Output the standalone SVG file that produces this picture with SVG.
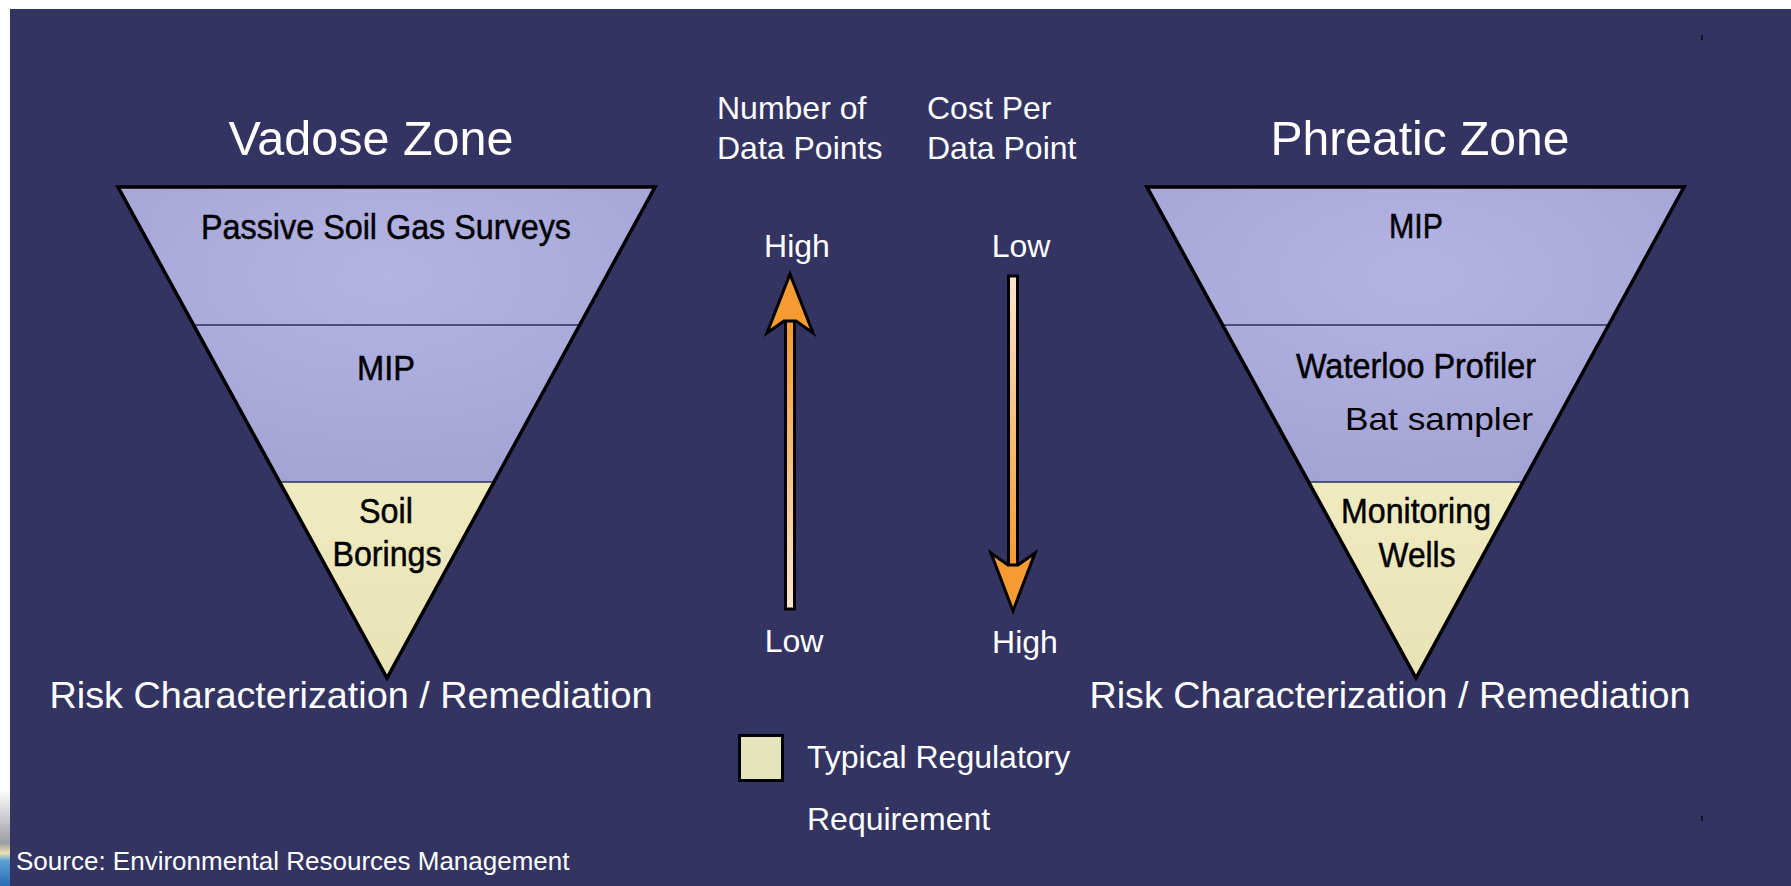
<svg xmlns="http://www.w3.org/2000/svg" width="1791" height="886" viewBox="0 0 1791 886">
  <style>
    .wt { fill: #ffffff; font-family: "Liberation Sans", Arial, sans-serif; }
    .bk { fill: #000000; font-family: "Liberation Sans", Arial, sans-serif; }
    .zone { font-size: 48px; text-anchor: middle; }
    .risk { font-size: 37px; text-anchor: middle; }
    .lbl { font-size: 35px; text-anchor: middle; stroke: #000000; stroke-width: 0.5; }
    .mid { font-size: 32px; }
    .outline { fill: none; stroke: #000000; stroke-width: 3.5; stroke-linejoin: miter; }
    .sep { stroke: #2e2e5e; stroke-width: 1.5; }
    .head { fill: #f59b32; stroke: #000000; stroke-width: 3; stroke-linejoin: miter; }
  </style>
  <defs>
    <radialGradient id="lav" cx="50%" cy="30%" r="70%">
      <stop offset="0" stop-color="#b4b4e4"/>
      <stop offset="1" stop-color="#a3a3d5"/>
    </radialGradient>
    <linearGradient id="yel" x1="0" y1="0" x2="0" y2="1">
      <stop offset="0" stop-color="#efebc0"/>
      <stop offset="1" stop-color="#e8e3b5"/>
    </linearGradient>
    <linearGradient id="upShaft" x1="0" y1="0" x2="0" y2="1">
      <stop offset="0" stop-color="#f39a30"/>
      <stop offset="1" stop-color="#fbe6cc"/>
    </linearGradient>
    <linearGradient id="downShaft" x1="0" y1="0" x2="0" y2="1">
      <stop offset="0" stop-color="#fbe6cc"/>
      <stop offset="1" stop-color="#f39a30"/>
    </linearGradient>
    <linearGradient id="logo" x1="0" y1="0" x2="0" y2="1">
      <stop offset="0" stop-color="#ffffff"/>
      <stop offset="0.55" stop-color="#9c9ca4"/>
      <stop offset="0.66" stop-color="#e9e2b0"/>
      <stop offset="0.74" stop-color="#5aa0d8"/>
      <stop offset="1" stop-color="#2a6cb0"/>
    </linearGradient>
    <g id="funnel">
      <polygon points="118,187 655,187 494,482 280,482" fill="url(#lav)"/>
      <polygon points="280,482 494,482 387,678" fill="url(#yel)"/>
      <line class="sep" x1="194" y1="325" x2="580" y2="325"/>
      <line class="sep" x1="280" y1="482" x2="494" y2="482"/>
      <polygon class="outline" points="118,187 655,187 387,678"/>
    </g>
  </defs>

  <!-- background and frame -->
  <rect x="0" y="0" width="1791" height="886" fill="#ffffff"/>
  <rect x="10" y="9" width="1781" height="877" fill="#343463"/>
  <rect x="0" y="790" width="10" height="96" fill="url(#logo)"/>
  <rect x="1701" y="35" width="2" height="5" fill="#111122"/>
  <rect x="1701" y="816" width="2" height="5" fill="#111122"/>

  <!-- Vadose zone funnel -->
  <g id="vadose">
    <text class="wt zone" x="371" y="155" textLength="285" lengthAdjust="spacingAndGlyphs">Vadose Zone</text>
    <use href="#funnel"/>
    <text class="bk lbl" x="386" y="239" textLength="370" lengthAdjust="spacingAndGlyphs">Passive Soil Gas Surveys</text>
    <text class="bk lbl" x="386" y="380" textLength="58" lengthAdjust="spacingAndGlyphs">MIP</text>
    <text class="bk lbl" x="386" y="523" textLength="54" lengthAdjust="spacingAndGlyphs">Soil</text>
    <text class="bk lbl" x="387" y="566" textLength="109" lengthAdjust="spacingAndGlyphs">Borings</text>
    <text class="wt risk" x="351" y="708" textLength="603" lengthAdjust="spacingAndGlyphs">Risk Characterization / Remediation</text>
  </g>

  <!-- Phreatic zone funnel -->
  <g id="phreatic">
    <text class="wt zone" x="1420" y="155" textLength="299" lengthAdjust="spacingAndGlyphs">Phreatic Zone</text>
    <use href="#funnel" transform="translate(1029,0)"/>
    <text class="bk lbl" x="1416" y="238" textLength="54" lengthAdjust="spacingAndGlyphs">MIP</text>
    <text class="bk lbl" x="1416" y="378" textLength="240" lengthAdjust="spacingAndGlyphs">Waterloo Profiler</text>
    <text class="bk" x="1345" y="430" font-size="32" textLength="188" lengthAdjust="spacingAndGlyphs">Bat sampler</text>
    <text class="bk lbl" x="1416" y="523" textLength="150" lengthAdjust="spacingAndGlyphs">Monitoring</text>
    <text class="bk lbl" x="1417" y="567" textLength="77" lengthAdjust="spacingAndGlyphs">Wells</text>
    <text class="wt risk" x="1390" y="708" textLength="601" lengthAdjust="spacingAndGlyphs">Risk Characterization / Remediation</text>
  </g>

  <!-- centre scale: number of data points -->
  <g id="data-points">
    <text class="wt mid" x="717" y="119">Number of</text>
    <text class="wt mid" x="717" y="159">Data Points</text>
    <text class="wt mid" x="797" y="257" text-anchor="middle">High</text>
    <text class="wt mid" x="794" y="652" text-anchor="middle">Low</text>
  </g>

  <!-- centre scale: cost per data point -->
  <g id="cost">
    <text class="wt mid" x="927" y="119">Cost Per</text>
    <text class="wt mid" x="927" y="159">Data Point</text>
    <text class="wt mid" x="1021" y="257" text-anchor="middle">Low</text>
    <text class="wt mid" x="1025" y="653" text-anchor="middle">High</text>
  </g>

  <!-- connectors (arrows) -->
  <g id="connectors">
    <rect x="785.5" y="318" width="9" height="291" fill="url(#upShaft)" stroke="#000" stroke-width="3"/>
    <polygon class="head" points="790,274 813,333 796,321 784,321 767,333"/>
    <rect x="1008.5" y="276" width="9" height="290" fill="url(#downShaft)" stroke="#000" stroke-width="3"/>
    <polygon class="head" points="1013,611 1035,553 1018,565 1008,565 991,553"/>
  </g>

  <!-- legend -->
  <g id="legend">
    <rect x="739.5" y="735.5" width="43" height="45" fill="#e6e4bc" stroke="#000" stroke-width="3"/>
    <text class="wt mid" x="807" y="768">Typical Regulatory</text>
    <text class="wt mid" x="807" y="830">Requirement</text>
  </g>

  <text class="wt" x="16" y="870" font-size="26">Source: Environmental Resources Management</text>
</svg>
